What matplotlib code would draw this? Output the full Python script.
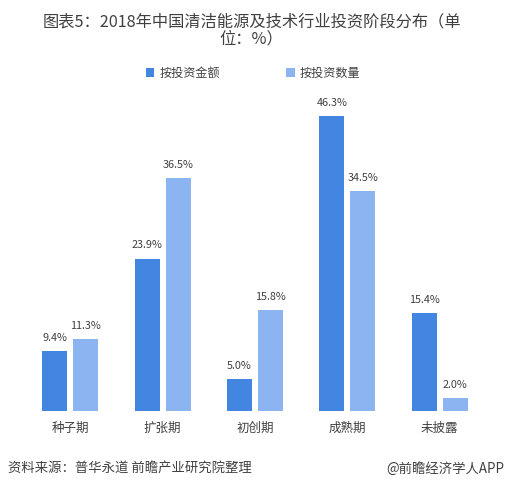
import matplotlib
matplotlib.use("Agg")
import matplotlib.pyplot as plt
import numpy as np

plt.rcParams['font.family'] = ['Noto Sans CJK SC', 'DejaVu Sans']

categories = ["种子期", "扩张期", "初创期", "成熟期", "未披露"]
series_names = ["按投资金额", "按投资数量"]
amount = [9.4, 23.9, 5.0, 46.3, 15.4]
count = [11.3, 36.5, 15.8, 34.5, 2.0]

c1 = "#4386E2"
c2 = "#8BB4F0"
txt = "#404040"

fig = plt.figure(figsize=(5.06, 4.87), dpi=100)
ax = fig.add_axes([24/506, 76/487, 462/506, 318.5/487])

x = np.arange(len(categories))
w = 0.27
gap = 0.065
b1 = ax.bar(x - (w + gap)/2, amount, w, color=c1, label=series_names[0])
b2 = ax.bar(x + (w + gap)/2, count, w, color=c2, label=series_names[1])
for bars, vals in ((b1, amount), (b2, count)):
    for r, v in zip(bars, vals):
        ax.text(r.get_x() + r.get_width()/2, v + 1.3, f"{v:.1f}%", ha="center",
                va="bottom", fontsize=7.8, color=txt)

ax.set_xlim(-0.5, len(categories) - 0.5)
ax.set_ylim(0, 50)
ax.set_xticks(x)
ax.set_xticklabels(categories, fontsize=9, color=txt)
ax.tick_params(axis="x", length=0, pad=8)
ax.set_yticks([])
for s in ax.spines.values():
    s.set_visible(False)

fig.text(0.497, 1 - 30/487, "图表5：2018年中国清洁能源及技术行业投资阶段分布（单\n位：%）",
         ha="center", va="center", fontsize=11.7, color=txt, linespacing=1.0)

leg = fig.legend(handles=[b1, b2], labels=series_names, loc="center",
                 bbox_to_anchor=(0.5, 1 - 73/487), ncol=2, frameon=False,
                 fontsize=8.7, handlelength=0.7, handleheight=0.7,
                 handletextpad=0.4, columnspacing=5.5)
for t in leg.get_texts():
    t.set_color(txt)

fig.text(8/506, 1 - 469/487, "资料来源：普华永道 前瞻产业研究院整理", ha="left", va="center",
         fontsize=9.6, color=txt, style="italic")
fig.text(504/506, 1 - 469/487, "@前瞻经济学人APP", ha="right", va="center",
         fontsize=9.6, color=txt)

fig.savefig("out.png", dpi=100)
